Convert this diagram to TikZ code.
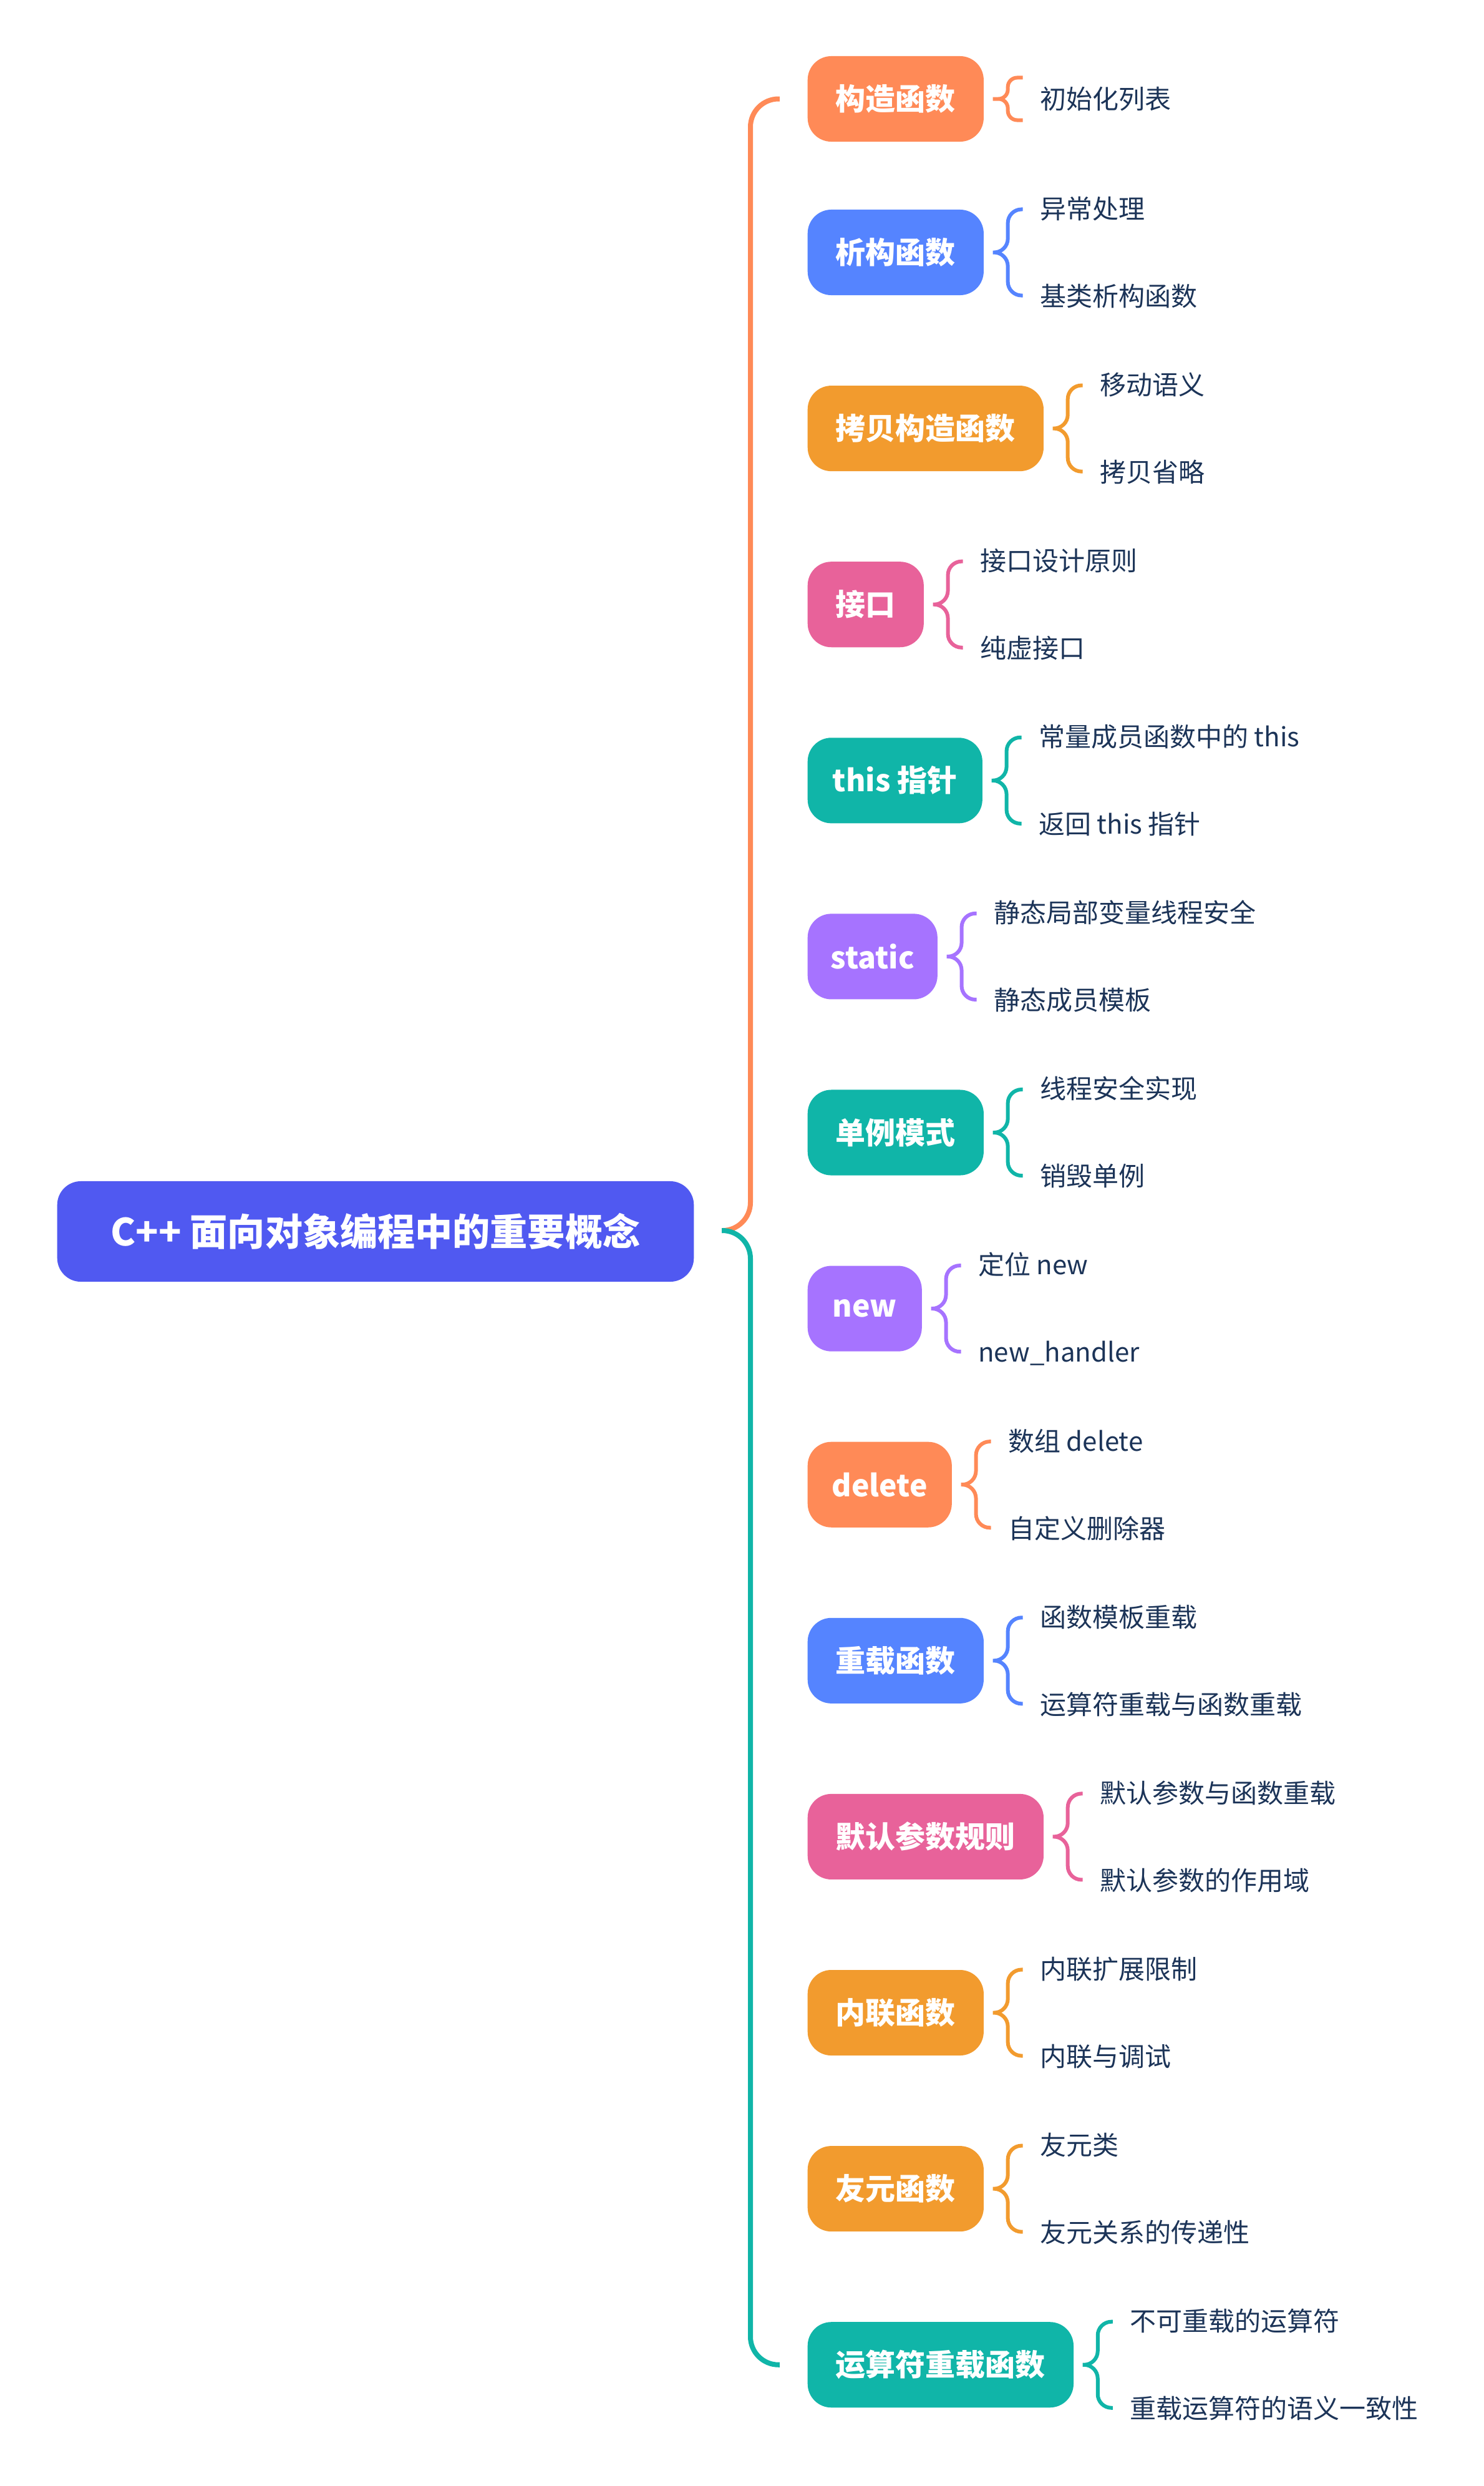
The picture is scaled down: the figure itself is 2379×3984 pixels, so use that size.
\documentclass[tikz,border=0pt]{standalone}
\usepackage{fontspec}
\setmainfont{Noto Sans CJK SC}
\usetikzlibrary{calc}
\definecolor{cOrange}{HTML}{FF8A57}
\definecolor{cBlue}{HTML}{5584FF}
\definecolor{cAmber}{HTML}{F29B2E}
\definecolor{cPink}{HTML}{E8629A}
\definecolor{cTeal}{HTML}{10B5A8}
\definecolor{cPurple}{HTML}{A673FF}
\definecolor{cRoot}{HTML}{5059F1}
\definecolor{cText}{HTML}{1C3458}
\tikzset{
  rootbox/.style={fill=cRoot, rounded corners=0.38cm, minimum height=1.61cm, minimum width=10.2cm, inner xsep=0.3cm, inner ysep=0pt, text=white, font=\bfseries\fontsize{17.1pt}{20pt}\selectfont, anchor=west},
  topic/.style={fill=#1, rounded corners=0.38cm, minimum height=1.37cm, inner xsep=0.45cm, inner ysep=0pt, text=white, font=\bfseries\fontsize{13.66pt}{16pt}\selectfont, anchor=west},
  fixw/.style={inner xsep=0.3cm, minimum width=#1},
  leaf/.style={text=cText, font=\fontsize{11.95pt}{14pt}\selectfont, anchor=west, inner sep=0pt, text height=10.5pt, text depth=1.5pt},
  trunk/.style={line width=0.08cm, rounded corners=0.45cm},
  brk/.style={draw=#1, line width=0.06cm, rounded corners=0.22cm},
  brkone/.style={draw=#1, line width=0.06cm, rounded corners=0.15cm}
}
\newcommand\twokids[7][]{% [extra], name, y, color, text, kid a, kid b
  \node[topic=#4,#1] (#2) at (1294,#3) {#5};
  \node[leaf] (#2a) at ([xshift=0.89cm,yshift=0.70cm]#2.east) {#6};
  \node[leaf] (#2b) at ([xshift=0.89cm,yshift=-0.70cm]#2.east) {#7};
  \draw[brk=#4] ([xshift=-0.27cm,yshift=-0.01cm]#2a.west) -| ([xshift=0.38cm]#2.east) -- ([xshift=0.14cm]#2.east)
     ([xshift=0.14cm]#2.east) -- ([xshift=0.38cm]#2.east) |- ([xshift=-0.27cm,yshift=0.01cm]#2b.west);
}
\begin{document}
\begin{tikzpicture}[x=0.01cm,y=-0.01cm]
\useasboundingbox (0,0) rectangle (2379,3984);
\node[rootbox] (root) at (91,1973.5) {C++ 面向对象编程中的重要概念};

% first topic, one child
\node[topic=cOrange] (t1) at (1294,158.5) {构造函数};
\node[leaf] (t1a) at ([xshift=0.89cm]t1.east) {初始化列表};
\draw[brkone=cOrange] ([xshift=-0.27cm,yshift=0.34cm]t1a.west) -| ([xshift=0.38cm]t1.east) -- ([xshift=0.14cm]t1.east)
   ([xshift=0.14cm]t1.east) -- ([xshift=0.38cm]t1.east) |- ([xshift=-0.27cm,yshift=-0.34cm]t1a.west);

\twokids{t2}{404.5}{cBlue}{析构函数}{异常处理}{基类析构函数}
\twokids{t3}{686.6}{cAmber}{拷贝构造函数}{移动语义}{拷贝省略}
\twokids{t4}{968.7}{cPink}{接口}{接口设计原则}{纯虚接口}
\twokids[fixw=2.80cm]{t5}{1250.8}{cTeal}{this 指针}{常量成员函数中的 this}{返回 this 指针}
\twokids[fixw=2.08cm]{t6}{1532.9}{cPurple}{static}{静态局部变量线程安全}{静态成员模板}
\twokids{t7}{1815.0}{cTeal}{单例模式}{线程安全实现}{销毁单例}
\twokids[fixw=1.83cm]{t8}{2097.1}{cPurple}{new}{定位 new}{new\_handler}
\twokids[fixw=2.31cm]{t9}{2379.2}{cOrange}{delete}{数组 delete}{自定义删除器}
\twokids{t10}{2661.3}{cBlue}{重载函数}{函数模板重载}{运算符重载与函数重载}
\twokids{t11}{2943.4}{cPink}{默认参数规则}{默认参数与函数重载}{默认参数的作用域}
\twokids{t12}{3225.5}{cAmber}{内联函数}{内联扩展限制}{内联与调试}
\twokids{t13}{3507.6}{cAmber}{友元函数}{友元类}{友元关系的传递性}
\twokids{t14}{3789.7}{cTeal}{运算符重载函数}{不可重载的运算符}{重载运算符的语义一致性}

% trunk
\coordinate (rj) at ([xshift=0.44cm,yshift=0.015cm]root.east);
\coordinate (tr) at (1203,1972);
\draw[trunk, cOrange] (rj) -- (tr) |- ([xshift=-0.44cm]t1.west);
\draw[trunk, cTeal] (rj) -- (tr) |- ([xshift=-0.44cm]t14.west);
\end{tikzpicture}
\end{document}
